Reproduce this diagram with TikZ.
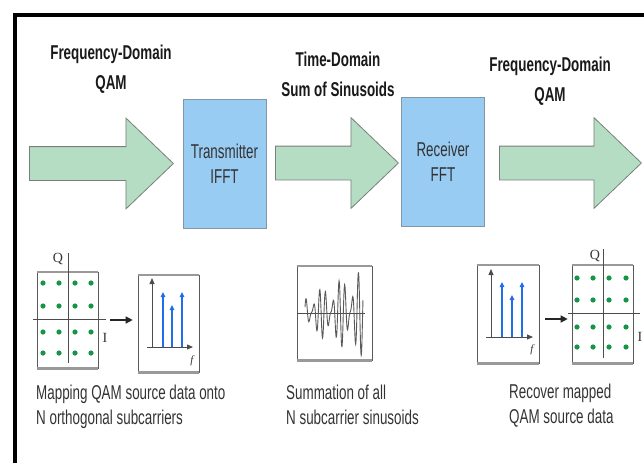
\documentclass[tikz,border=0pt]{standalone}
\usepackage{fontspec}
\setmainfont{Liberation Sans}
\newfontfamily\narrowsans[FakeStretch=0.67]{Liberation Sans}
\newfontfamily\axisfont{Liberation Serif}
\usetikzlibrary{positioning, arrows.meta, calc, shapes.arrows}

\definecolor{flowgreen}{RGB}{181,221,195}
\definecolor{flowedge}{RGB}{120,128,122}
\definecolor{dspblue}{RGB}{153,204,243}
\definecolor{dspedge}{RGB}{130,150,165}
\definecolor{dotgreen}{RGB}{20,150,70}
\definecolor{toneblue}{RGB}{30,110,235}
\definecolor{boxedge}{RGB}{90,90,90}

\begin{document}
\begin{tikzpicture}[x=1pt, y=-1pt,
  every node/.style={font=\narrowsans\fontsize{20}{24.5}\selectfont, text=black!80},
  heading/.style={font=\narrowsans\bfseries\fontsize{20}{30}\selectfont, text=black!90,
                  align=center, anchor=north, inner sep=0pt},
  flow/.style={single arrow, draw=flowedge, fill=flowgreen, line width=0.8pt,
               single arrow head extend=28.5pt, single arrow tip angle=87.5,
               inner xsep=0pt, inner ysep=16.5pt, anchor=tail},
  dsp/.style={draw=dspedge, fill=dspblue, minimum width=83pt, minimum height=129pt,
              align=center, inner sep=0pt, font=\narrowsans\fontsize{20}{25}\selectfont},
  caption/.style={align=left, anchor=north west, inner sep=0pt},
  plotbox/.style={draw=boxedge, line width=0.6pt, inner sep=0pt},
  rule/.style={draw=gray!80, line width=2.4pt},
  axis/.style={draw=black!70, line width=0.8pt},
  axtip/.style={axis, -{Triangle[length=6pt,width=5pt]}},
  axislbl/.style={font=\axisfont\fontsize{14}{14}\selectfont, inner sep=0pt},
  tone/.style={draw=toneblue, line width=1.6pt, -{Triangle[length=5pt,width=4.5pt]}},
  maparr/.style={draw=black!85, line width=1.2pt, -{Triangle[length=7pt,width=7pt]}},
  wave/.style={draw=black!65, line width=0.9pt}
]
\useasboundingbox (0,0) rectangle (644,463);

% ---- frame ----
\draw[line width=4.5pt] (15,463) -- (15,15) -- (644,15);

% ---- signal chain ----
\node[heading] (freqin) at (111,45) {Frequency-Domain\\QAM};
\node[heading] (timedom) at (338,52) {Time-Domain\\Sum of Sinusoids};
\node[heading] (freqout) at (550,57) {Frequency-Domain\\QAM};

\node[dsp] (tx) at (224.5,164) {Transmitter\\IFFT};
\node[dsp] (rx) at (443,162) {Receiver\\FFT};

\node[flow, minimum height=144pt] (qamin) at (29,163.5) {};
\node[flow, minimum height=123pt] (sumsin) at (275,163) {};
\node[flow, minimum height=142pt] (qamout) at (499,163) {};

% ---- QAM constellation (transmit side) ----
\node[plotbox, minimum width=61pt, minimum height=96pt] (qamL) at (67.5,320) {};
\draw[rule] (qamL.north west) -- (qamL.north east);
\draw[rule] (qamL.south west) -- (qamL.south east);
\draw[axis] (68,253) -- (68,363);
\draw[axis] (33,319) -- (106,319);
\foreach \x in {43,59,75,91}
  \foreach \y in {283,306,332,353}
    \fill[dotgreen] (\x,\y) circle (2.6);
\node[axislbl] (qL) at (58,259) {Q};
\node[axislbl] (iL) at (105,338) {I};

% ---- subcarrier spectrum ----
\node[plotbox, minimum width=61pt, minimum height=97pt] (specL) at (168.5,323.5) {};
\draw[rule] (specL.north west) -- (specL.north east);
\draw[rule] (specL.south west) -- (specL.south east);
\draw[axtip] (152,347) -- (152,278);
\draw[axtip] (147,347) -- (193,347);
\foreach \x/\t in {163/292, 172/305, 182/292}
  \draw[tone] (\x,347) -- (\x,\t);
\node[axislbl, font=\axisfont\itshape\fontsize{11}{11}\selectfont] (fL) at (192,361) {f};

\draw[maparr, shorten <=12pt, shorten >=5pt] (qamL.east) -- (qamL.east -| specL.west);

% ---- time-domain sum ----
\node[plotbox, minimum width=75pt, minimum height=94pt] (sumbox) at (334.5,313) {};
\draw[rule] (sumbox.north west) -- (sumbox.north east);
\draw[rule] (sumbox.south west) -- (sumbox.south east);
\draw[axis] (297,313) -- (365,313);
\draw[wave] plot[domain=0:1, samples=200, smooth]
  ({305+58*\x}, {313-44*(0.4+0.6*\x)*(0.6*sin(3240*\x)+0.4*sin(4320*\x+57))});

% ---- received spectrum ----
\node[plotbox, minimum width=62pt, minimum height=98pt] (specR) at (508,314) {};
\draw[rule] (specR.north west) -- (specR.north east);
\draw[rule] (specR.south west) -- (specR.south east);
\draw[axtip] (491,337) -- (491,269);
\draw[axtip] (486,337) -- (533,337);
\foreach \x/\t in {502/282, 512/295, 522/282}
  \draw[tone] (\x,337) -- (\x,\t);
\node[axislbl, font=\axisfont\itshape\fontsize{11}{11}\selectfont] (fR) at (532,350) {f};

% ---- QAM constellation (receive side) ----
\node[plotbox, minimum width=61pt, minimum height=98pt] (qamR) at (602.5,314) {};
\draw[rule] (qamR.north west) -- (qamR.north east);
\draw[rule] (qamR.south west) -- (qamR.south east);
\draw[axis] (603,249) -- (603,358);
\draw[axis] (568,313) -- (640,313);
\foreach \x in {577,593,609,626}
  \foreach \y in {278,300,327,347}
    \fill[dotgreen] (\x,\y) circle (2.6);
\node[axislbl] (qR) at (595,256) {Q};
\node[axislbl] (iR) at (640,337) {I};

\draw[maparr, shorten <=6pt, shorten >=4pt] ([yshift=-5pt]specR.east) -- ([yshift=-5pt]qamR.west);

% ---- captions ----
\node[caption] (capmap) at (36,385) {Mapping QAM source data onto\\N orthogonal subcarriers};
\node[caption] (capsum) at (286,385) {Summation of all\\N subcarrier sinusoids};
\node[caption] (caprec) at (509,384) {Recover mapped\\QAM source data};

\end{tikzpicture}
\end{document}
